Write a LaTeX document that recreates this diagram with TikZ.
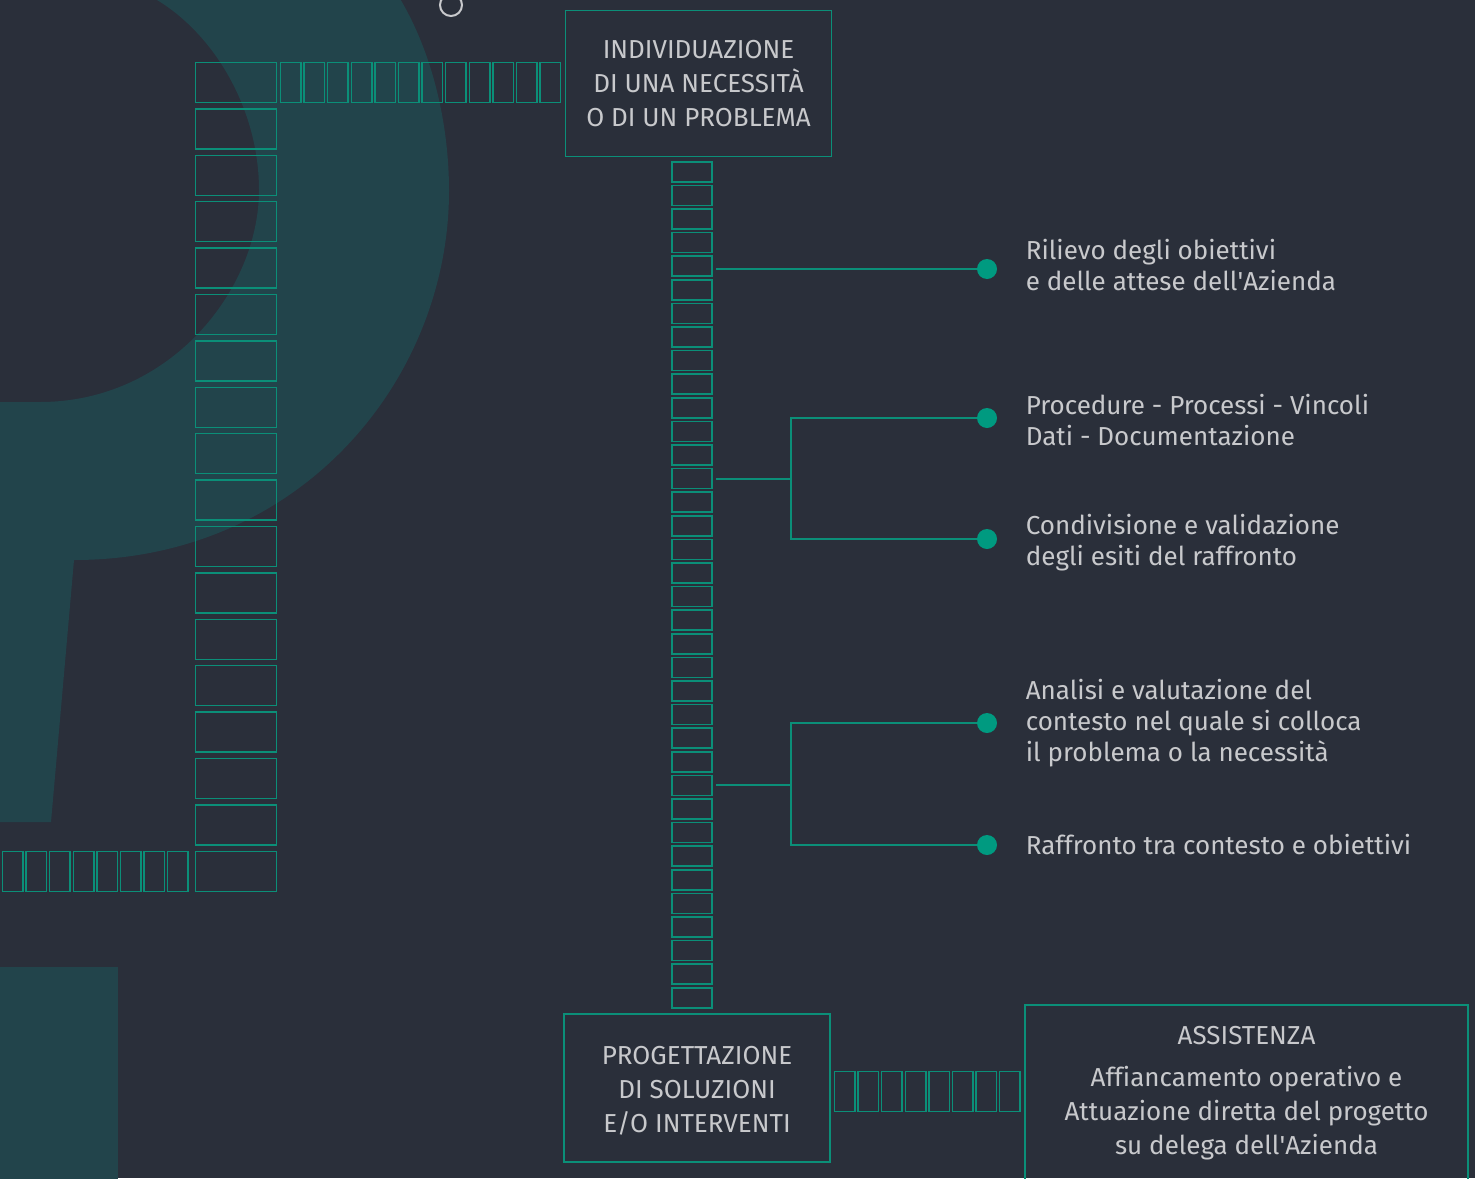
\documentclass[tikz,border=0pt]{standalone}
\usepackage{fontspec}
\IfFontExistsTF{Fira Sans Book}
  {\setmainfont{Fira Sans Book}[Ligatures={TeX,NoCommon}]}
  {\setmainfont{Fira Sans}[Ligatures={TeX,NoCommon}]}
\usepackage{xcolor}
\usetikzlibrary{positioning}

\definecolor{bgdark}{HTML}{2A2F3A}
\definecolor{pshade}{HTML}{22444B}
\definecolor{tealline}{HTML}{0B8F78}
\definecolor{tealdot}{HTML}{009A80}
\definecolor{softgray}{HTML}{C8C9CC}

\begin{document}
\begin{tikzpicture}[x=0.5pt, y=-0.5pt,
    cell/.style={draw=tealline, line width=0.75pt, inner sep=0pt},
    wide/.style={cell, minimum width=40.5pt, minimum height=20pt},
    tall/.style={cell, minimum width=10.25pt, minimum height=20pt},
    flat/.style={cell, minimum width=20pt, minimum height=10pt},
    stage/.style={draw=tealline, line width=0.75pt, text=softgray, align=center, inner sep=0pt,
      font=\fontsize{13pt}{17pt}\selectfont},
    dot/.style={circle, fill=tealdot, inner sep=0pt, minimum size=10pt},
    note/.style={text=softgray, align=left, inner sep=0pt, font=\fontsize{13pt}{15.5pt}\selectfont},
    link/.style={draw=tealline, line width=1pt}]

    \useasboundingbox (0,0) rectangle (1475,1178);
    \clip (0,0) rectangle (1475,1178);
    \fill[bgdark] (0,0) rectangle (1475,1178);

    % big letter in the background
    \fill[pshade, even odd rule]
        (-10,-40) -- (372,-40) .. controls (425,20) and (449,110) .. (449,191)
        .. controls (449,380) and (300,560) .. (74,560) -- (51,822) -- (-10,822) -- cycle
        (-10,402) -- (40,402) .. controls (170,402) and (259,290) .. (259,190)
        .. controls (259,110) and (215,35) .. (157,0) -- (110,-40) -- (-10,-40) -- cycle;
    \fill[pshade] (-10,967) rectangle (118,1190);
    \draw[softgray, line width=1pt] (451,5) circle[radius=5.5pt];

    \node[stage, minimum width=133pt, minimum height=73pt] (find) at (698.5,83.5)
        {INDIVIDUAZIONE\\DI UNA NECESSITÀ\\O DI UN PROBLEMA};
    \node[stage, minimum width=133pt, minimum height=74pt] (plan) at (697,1088) {};
    \node[stage, draw=none] (plantext) at ([yshift=-1.5pt]plan.center)
        {PROGETTAZIONE\\DI SOLUZIONI\\E/O INTERVENTI};
    \node[stage, minimum width=221.5pt, minimum height=88pt] (help) at (1246.5,1093)
        {ASSISTENZA\\[4pt]Affiancamento operativo e\\Attuazione diretta del progetto\\su delega dell\textquotesingle Azienda};

    \foreach \i in {1,...,36}
        \node[flat] (m\i) at (692, {171.8+23.6*(\i-1)}) {};
    \foreach \i in {1,...,18}
        \node[wide] (w\i) at (236, {82.5+46.4*(\i-1)}) {};
    \foreach \i in {1,...,12}
        \node[tall] (t\i) at ({290.75+23.6*(\i-1)}, 82.5) {};
    \foreach \i in {1,...,8}
        \node[tall] (b\i) at ({12.75+23.6*(\i-1)}, 871.5) {};
    \foreach \i in {1,...,8}
        \node[tall] (r\i) at ({844.75+23.6*(\i-1)}, 1091.5) {};

    \node[dot] (d1) at (987,269) {};
    \node[dot] (d2) at (987,418) {};
    \node[dot] (d3) at (987,539) {};
    \node[dot] (d4) at (987,723) {};
    \node[dot] (d5) at (987,845) {};

    \node[note, right=14pt of d1, yshift=2pt] (n1) {Rilievo degli obiettivi\\e delle attese dell\textquotesingle Azienda};
    \node[note, right=14pt of d2, yshift=-1pt] (n2) {Procedure - Processi - Vincoli\\Dati - Documentazione};
    \node[note, right=14pt of d3, yshift=-2pt] (n3) {Condivisione e validazione\\degli esiti del raffronto};
    \node[note, right=14pt of d4] (n4) {Analisi e valutazione del\\contesto nel quale si colloca\\il problema o la necessità};
    \node[note, right=14pt of d5] (n5) {Raffronto tra contesto e obiettivi};

    \coordinate (j1) at ([xshift=39pt]m14.east);
    \coordinate (j2) at ([xshift=39pt]m27.east);

    \draw[link] ([xshift=1.5pt]m5.east |- d1) -- (d1);
    \draw[link] ([xshift=1.5pt]m14.east) -- (j1);
    \draw[link] (d2) -| (j1) |- (d3);
    \draw[link] ([xshift=1.5pt]m27.east) -- (j2);
    \draw[link] (d4) -| (j2) |- (d5);
\end{tikzpicture}
\end{document}
